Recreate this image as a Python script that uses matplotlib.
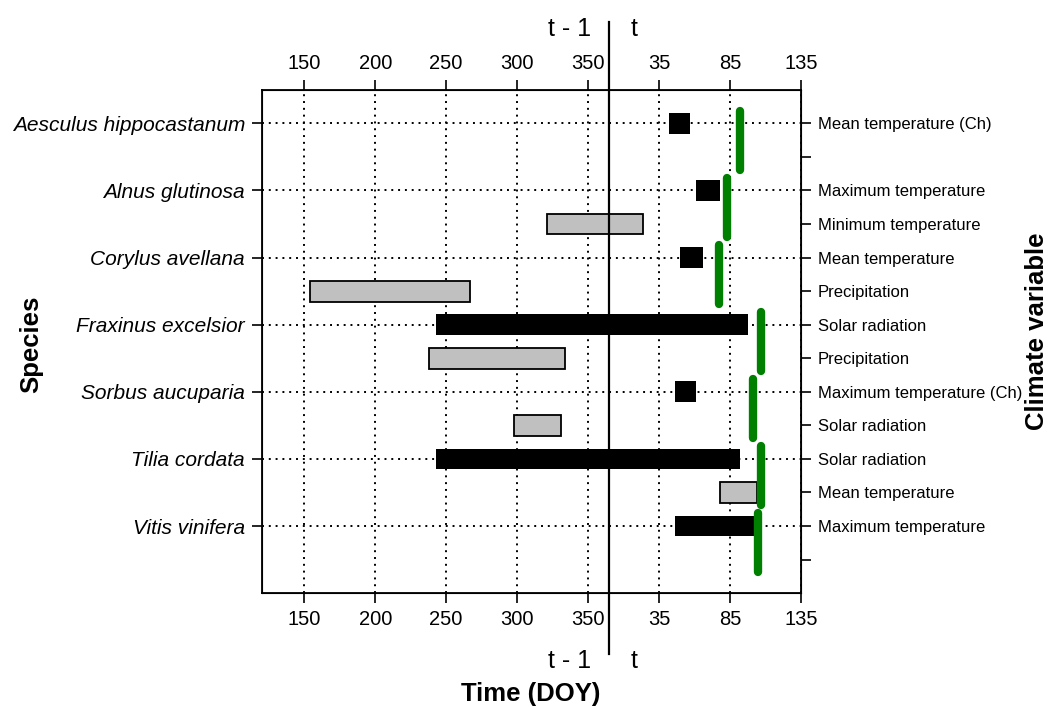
import matplotlib.pyplot as plt

plt.rcParams['font.family'] = ['Liberation Sans', 'DejaVu Sans']

# days counted from 1 Jan of year t-1 (current-year DOY + 365)
species = ["Aesculus hippocastanum", "Alnus glutinosa", "Corylus avellana",
           "Fraxinus excelsior", "Sorbus aucuparia", "Tilia cordata", "Vitis vinifera"]
black_start = [407, 426, 415, 243, 411, 243, 411]
black_end = [422, 443, 431, 463, 426, 457, 467]
grey_start = [None, 321, 154, 238, 298, 443, None]
grey_end = [None, 389, 267, 334, 331, 469, None]
green_x = [457, 448, 442, 472, 466, 472, 470]

climate = ["Mean temperature (Ch)", "", "Maximum temperature", "Minimum temperature",
           "Mean temperature", "Precipitation", "Solar radiation", "Precipitation",
           "Maximum temperature (Ch)", "Solar radiation", "Solar radiation",
           "Mean temperature", "Maximum temperature", ""]

xticks = [150, 200, 250, 300, 350, 400, 450, 500]
xlabels = ["150", "200", "250", "300", "350", "35", "85", "135"]

fig = plt.figure(figsize=(10.51, 7.07), dpi=100)
ax = fig.add_axes([0.249, 0.161, 0.513, 0.712])
ax.set_xlim(120, 500)
ax.set_ylim(0, 15)

rows = [14 - 2 * i for i in range(len(species))]
dots = (0, (1, 2.5))
for x in xticks:
    ax.axvline(x, color='black', ls=dots, lw=1.4, zorder=1)
for r in rows:
    ax.axhline(r, color='black', ls=dots, lw=1.4, zorder=1)

for i, r in enumerate(rows):
    ax.barh(r, black_end[i] - black_start[i], left=black_start[i], height=0.62,
            color='black', zorder=3)
    if grey_start[i] is not None:
        ax.barh(r - 1, grey_end[i] - grey_start[i], left=grey_start[i], height=0.62,
                color='#c0c0c0', edgecolor='black', linewidth=1.3, zorder=3)
    ax.plot([green_x[i], green_x[i]], [r + 0.38, r - 1.38], color='#008000', lw=6,
            solid_capstyle='round', zorder=4)

ax.axvline(365, ymin=-0.12, ymax=1.135, color='black', lw=1.6, clip_on=False, zorder=5)

ax.set_xticks(xticks)
ax.set_xticklabels(xlabels)
ax.tick_params(axis='x', top=True, labeltop=True, direction='out', length=7,
               width=1.2, labelsize=14.5, pad=5)
ax.set_yticks(rows)
ax.set_yticklabels(species, fontstyle='italic')
ax.tick_params(axis='y', direction='out', length=7, width=1.2, labelsize=15, pad=5)
for s in ax.spines.values():
    s.set_linewidth(1.3)

ax2 = ax.twinx()
ax2.set_ylim(0, 15)
ax2.set_yticks(range(14, 0, -1))
ax2.set_yticklabels(climate)
ax2.tick_params(axis='y', direction='out', length=7, width=1.2, labelsize=12, pad=5)

for yy in [1.12, -0.135]:
    ax.text(352, yy, "t - 1", transform=ax.get_xaxis_transform(), ha='right',
            va='center', fontsize=18)
    ax.text(380, yy, "t", transform=ax.get_xaxis_transform(), ha='left',
            va='center', fontsize=18)

fig.text(0.505, 0.019, "Time (DOY)", ha='center', va='center', fontsize=18.5, fontweight='bold')
fig.text(0.030, 0.513, "Species", rotation=90, ha='center', va='center',
         fontsize=18.5, fontweight='bold')
fig.text(0.987, 0.532, "Climate variable", rotation=90, ha='center', va='center',
         fontsize=18.5, fontweight='bold')

fig.savefig("out.png", dpi=100)
